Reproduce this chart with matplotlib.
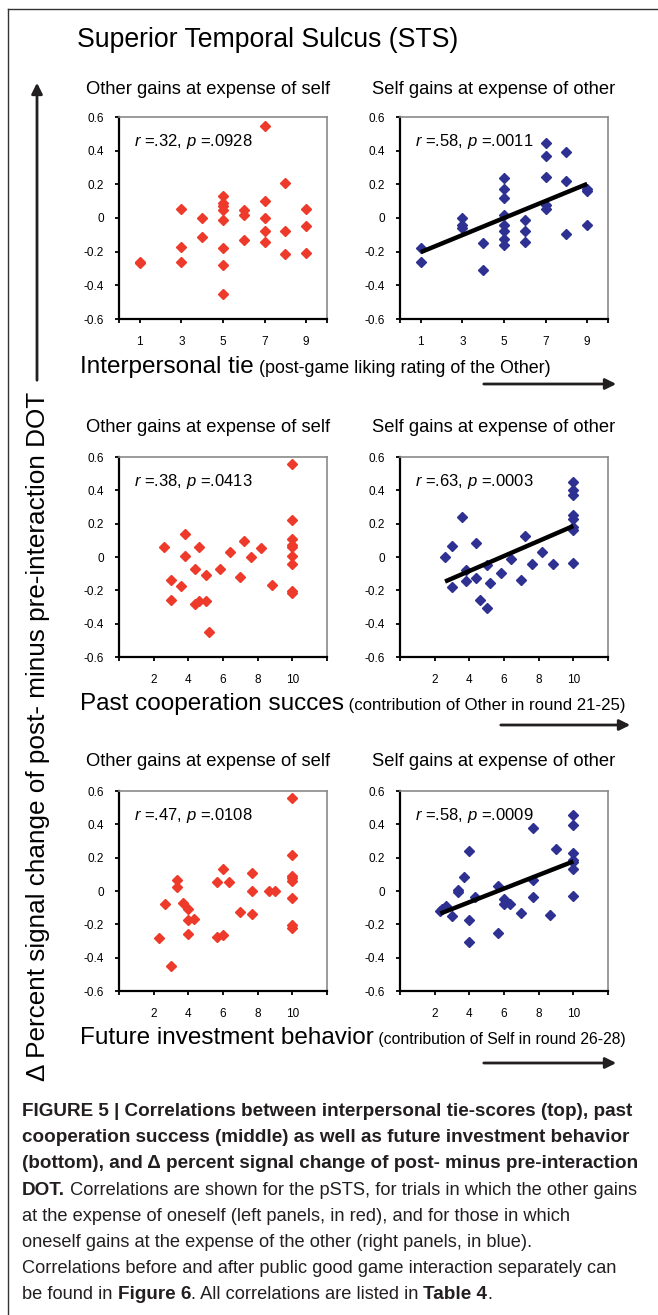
import matplotlib
matplotlib.use("Agg")
import matplotlib.pyplot as plt
from matplotlib import font_manager
from matplotlib.patches import FancyArrowPatch
from matplotlib.lines import Line2D
import numpy as np

# ---- data ----
tie_other_x = [1, 1, 3, 3, 3, 4, 4, 5, 5, 5, 5, 5, 5, 5, 5, 6, 6, 6, 7, 7, 7, 7, 7, 8, 8, 8, 9, 9, 9]
tie_other_y = [-0.26, -0.27, 0.055, -0.17, -0.26, 0.0, -0.11, 0.13, 0.09, 0.07, 0.05, -0.01, -0.18, -0.28, -0.45,
               0.05, 0.02, -0.13, 0.545, 0.10, 0.0, -0.075, -0.14, 0.21, -0.08, -0.215, 0.055, -0.045, -0.21]
tie_self_x = [1, 1, 3, 3, 3, 4, 4, 5, 5, 5, 5, 5, 5, 5, 5, 6, 6, 6, 7, 7, 7, 7, 7, 8, 8, 8, 9, 9, 9]
tie_self_y = [-0.18, -0.26, 0.0, -0.04, -0.06, -0.15, -0.31, 0.235, 0.17, 0.12, 0.02, -0.04, -0.08, -0.125, -0.16,
              -0.01, -0.08, -0.14, 0.445, 0.37, 0.245, 0.075, 0.055, 0.39, 0.22, -0.095, 0.175, 0.16, -0.04]

past_other_x = [2.6, 3.0, 3.0, 3.6, 3.8, 3.8, 4.4, 4.6, 4.4, 4.6, 5.0, 5.0, 5.2, 5.8, 6.4, 7.0, 7.2, 7.6, 8.2, 8.8,
                10, 10, 10, 10, 10, 10, 10, 10, 10]
past_other_y = [0.06, -0.136, -0.256, -0.176, 0.136, 0.004, -0.07, 0.06, -0.28, -0.264, -0.106, -0.264, -0.45,
                -0.074, 0.03, -0.12, 0.096, 0.0, 0.056, -0.166, 0.558, 0.22, 0.11, 0.074, 0.06, 0.004, -0.04,
                -0.204, -0.216]
past_self_x = [2.6, 3.0, 3.0, 3.6, 3.8, 3.8, 4.4, 4.4, 4.6, 5.0, 5.0, 5.2, 5.8, 6.4, 7.0, 7.2, 7.6, 8.2, 8.8,
               10, 10, 10, 10, 10, 10, 10, 10]
past_self_y = [0.0, 0.064, -0.177, 0.24, -0.076, -0.145, 0.084, -0.126, -0.255, -0.307, -0.05, -0.155, -0.097,
               -0.012, -0.135, 0.128, -0.042, 0.028, -0.042, 0.452, 0.40, 0.373, 0.253, 0.231, 0.181, 0.163, -0.036]

fut_other_x = [2.33, 2.67, 3.0, 3.33, 3.33, 3.67, 4.0, 4.0, 4.0, 4.33, 5.67, 5.67, 6.0, 6.0, 6.33, 7.0, 7.67, 7.67,
               7.67, 8.67, 9.0, 10, 10, 10, 10, 10, 10, 10, 10]
fut_other_y = [-0.28, -0.076, -0.452, 0.064, 0.024, -0.072, -0.11, -0.176, -0.26, -0.166, 0.056, -0.274, 0.134,
               -0.264, 0.056, -0.124, 0.108, 0.0, -0.14, 0.0, 0.0, 0.556, 0.216, 0.09, 0.076, 0.06, -0.04, -0.204,
               -0.22]
fut_self_x = [2.33, 2.45, 2.67, 3.0, 3.33, 3.33, 3.67, 4.0, 4.0, 4.0, 4.33, 5.67, 5.67, 6.0, 6.0, 6.33, 7.0, 7.67,
              7.67, 7.67, 8.67, 9.0, 10, 10, 10, 10, 10, 10, 10]
fut_self_y = [-0.118, -0.108, -0.09, -0.15, 0.006, -0.008, 0.086, 0.241, -0.173, -0.305, -0.038, 0.03, -0.25, -0.048,
              -0.078, -0.078, -0.134, 0.377, 0.066, -0.034, -0.143, 0.251, 0.456, 0.397, 0.231, 0.185, 0.175, 0.132,
              -0.032]

stats = [["$r$ =.32, $p$ =.0928", "$r$ =.58, $p$ =.0011"],
         ["$r$ =.38, $p$ =.0413", "$r$ =.63, $p$ =.0003"],
         ["$r$ =.47, $p$ =.0108", "$r$ =.58, $p$ =.0009"]]
panel_titles = ["Other gains at expense of self", "Self gains at expense of other"]
row_labels = [("Interpersonal tie", " (post-game liking rating of the Other)"),
              ("Past cooperation succes", " (contribution of Other in round 21-25)"),
              ("Future investment behavior", " (contribution of Self in round 26-28)")]
y_ticks = [-0.6, -0.4, -0.2, 0, 0.2, 0.4, 0.6]
y_ticklabels = ["-0.6", "-0.4", "-0.2", "0", "0.2", "0.4", "0.6"]
tie_ticks = [0, 1, 3, 5, 7, 9, 10]
tie_ticklabels = ["", "1", "3", "5", "7", "9", ""]
ctb_ticks = [0, 2, 4, 6, 8, 10, 12]
ctb_ticklabels = ["", "2", "4", "6", "8", "10", ""]

caption = [
    [("FIGURE 5 | Correlations between interpersonal tie-scores (top), past", "bold")],
    [("cooperation success (middle) as well as future investment behavior", "bold")],
    [("(bottom), and \u0394 percent signal change of post- minus pre-interaction", "bold")],
    [("DOT.", "bold"), (" Correlations are shown for the pSTS, for trials in which the other gains", "normal")],
    [("at the expense of oneself (left panels, in red), and for those in which", "normal")],
    [("oneself gains at the expense of the other (right panels, in blue).", "normal")],
    [("Correlations before and after public good game interaction separately can", "normal")],
    [("be found in ", "normal"), ("Figure 6", "bold"), (". All correlations are listed in ", "normal"),
     ("Table 4", "bold"), (".", "normal")],
]

RED = "#ee3a2a"
BLUE = "#2e3192"

names = {f.name for f in font_manager.fontManager.ttflist}
FONT = "Liberation Sans Narrow" if "Liberation Sans Narrow" in names else "Liberation Sans"
plt.rcParams["font.family"] = [FONT, "DejaVu Sans"]
plt.rcParams["mathtext.fontset"] = "custom"
plt.rcParams["mathtext.it"] = FONT + ":italic"
plt.rcParams["mathtext.rm"] = FONT

W, H = 658, 1315
fig = plt.figure(figsize=(W / 100, H / 100), dpi=100)
fig.patch.set_facecolor("white")
renderer = fig.canvas.get_renderer()


def fx(px):
    return px / W


def fy(py):
    return 1 - py / H


def text_width(txt, size, weight="normal"):
    t = fig.text(0, 0, txt, fontsize=size, fontweight=weight)
    w = t.get_window_extent(renderer).width
    t.remove()
    return w


def panel(left, top, bottom, x, y, color, xlim, ticks, ticklabels, stat, fit):
    ax = fig.add_axes([fx(left), fy(bottom), 208 / W, (bottom - top) / H])
    ax.plot(x, y, ls="none", marker="D", ms=4.8, color=color, mec=color, clip_on=False, zorder=3)
    if fit:
        c = np.polyfit(x, y, 1)
        xs = np.array([min(x), max(x)])
        ax.plot(xs, np.polyval(c, xs), color="black", lw=3.2, solid_capstyle="butt", zorder=4)
    ax.set_xlim(xlim)
    ax.set_ylim(-0.6, 0.6)
    ax.set_yticks(y_ticks)
    ax.set_yticklabels(y_ticklabels)
    ax.set_xticks(ticks)
    ax.set_xticklabels(ticklabels)
    ax.tick_params(axis="both", direction="out", length=3, width=1.3, labelsize=8.5, colors="black")
    ax.tick_params(axis="y", pad=8)
    ax.tick_params(axis="x", pad=9)
    for s in ["left", "bottom"]:
        ax.spines[s].set_linewidth(1.6)
        ax.spines[s].set_color("black")
    for s in ["top", "right"]:
        ax.spines[s].set_linewidth(1.2)
        ax.spines[s].set_color("#8a8a8a")
    ax.text(0.07, 0.88, stat, transform=ax.transAxes, fontsize=12.0, va="center", ha="left")
    return ax


rows = [
    (117, 319, tie_other_x, tie_other_y, tie_self_x, tie_self_y, (0, 10), tie_ticks, tie_ticklabels),
    (457, 657, past_other_x, past_other_y, past_self_x, past_self_y, (0, 12), ctb_ticks, ctb_ticklabels),
    (791, 991, fut_other_x, fut_other_y, fut_self_x, fut_self_y, (0, 12), ctb_ticks, ctb_ticklabels),
]
title_y = [90, 428, 761]
label_y = [373, 710, 1044]
label_end = [552, 626, 626]
arrow_y = [384, 725, 1063]
arrow_x = [(481, 619), (498, 633), (481, 619)]

for i, (top, bot, ox, oy, sx, sy, xl, tk, tl) in enumerate(rows):
    panel(119, top, bot, ox, oy, RED, xl, tk, tl, stats[i][0], False)
    panel(400, top, bot, sx, sy, BLUE, xl, tk, tl, stats[i][1], True)
    fig.text(fx(208), fy(title_y[i]), panel_titles[0], fontsize=13.2, ha="center", va="center")
    fig.text(fx(494), fy(title_y[i]), panel_titles[1], fontsize=13.2, ha="center", va="center")
    big = fig.text(fx(80), fy(label_y[i]), row_labels[i][0], fontsize=17.5, ha="left", va="baseline")
    bw = big.get_window_extent(renderer).width
    small = 11.6 * (label_end[i] - 80 - bw) / text_width(row_labels[i][1], 11.6)
    fig.text(fx(80 + bw), fy(label_y[i]), row_labels[i][1], fontsize=small, ha="left", va="baseline")
    fig.add_artist(FancyArrowPatch((fx(arrow_x[i][0]), fy(arrow_y[i])), (fx(arrow_x[i][1]), fy(arrow_y[i])),
                                   transform=fig.transFigure, arrowstyle="-|>", mutation_scale=16,
                                   lw=2, color="#231f20"))

# main title and y label
fig.text(fx(77), fy(40), "Superior Temporal Sulcus (STS)", fontsize=19.2, ha="left", va="center")
fig.text(fx(38), fy(736), "\u0394 Percent signal change of post- minus pre-interaction DOT",
         fontsize=18.8, rotation=90, ha="center", va="center")
fig.add_artist(FancyArrowPatch((fx(37), fy(383)), (fx(37), fy(80)), transform=fig.transFigure,
                               arrowstyle="-|>", mutation_scale=16, lw=2, color="#231f20"))

# frame
fig.add_artist(Line2D([fx(8), fx(8)], [fy(9), fy(H)], transform=fig.transFigure, color="#333333", lw=1))
fig.add_artist(Line2D([fx(8), fx(W)], [fy(9), fy(9)], transform=fig.transFigure, color="#333333", lw=1))


# caption, font size fitted so the widest line matches the reference width
def line_width(line, size):
    return sum(text_width(txt, size, wt) for txt, wt in line)


cap_size = 10 * 618 / max(line_width(line, 10) for line in caption)
for j, line in enumerate(caption):
    x = 22
    for txt, wt in line:
        size = cap_size * (1.035 if wt == "bold" else 1.0)
        t = fig.text(fx(x), fy(1116 + 26.2 * j), txt, fontsize=size, fontweight=wt,
                     ha="left", va="baseline", color="#231f20")
        x += t.get_window_extent(renderer).width

fig.savefig("out.png", dpi=100)
